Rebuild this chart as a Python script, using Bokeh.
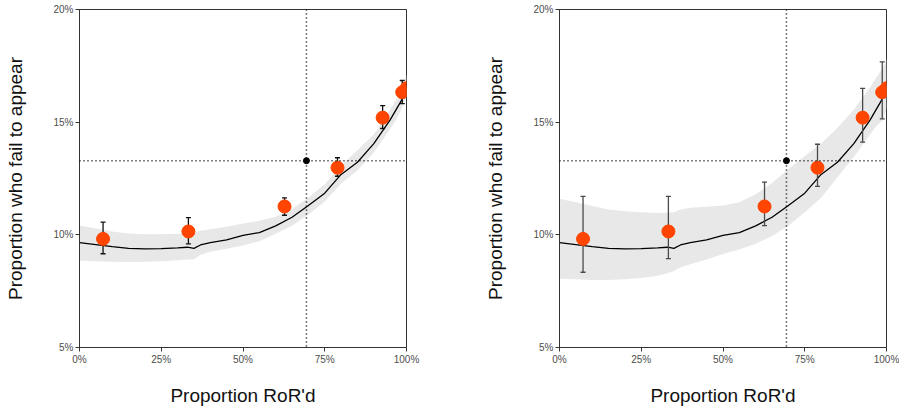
from bokeh.plotting import figure
from bokeh.layouts import row
from bokeh.models import FixedTicker, PrintfTickFormatter, Range1d, ColumnDataSource, Span
from bokeh.embed import file_html
from bokeh.resources import INLINE

# Smoothed estimate of failure-to-appear rate vs. share released on recognizance
curve_x = [0, 5, 10, 15, 20, 25, 30, 33, 35, 37, 40, 45, 50, 55, 60, 65, 70, 75, 80, 85, 90, 95, 97, 99, 100]
curve_y = [9.65, 9.57, 9.48, 9.40, 9.38, 9.39, 9.42, 9.45, 9.40, 9.55, 9.65, 9.78, 9.98, 10.10, 10.40,
           10.78, 11.30, 11.85, 12.68, 13.22, 14.05, 15.10, 15.60, 16.10, 16.80]

# Uncertainty bands for the two panels
left_band_lo = [8.86, 8.83, 8.80, 8.79, 8.80, 8.83, 8.87, 8.90, 8.92, 9.12, 9.25, 9.38, 9.53, 9.72, 10.05,
                10.40, 10.90, 11.48, 12.28, 12.85, 13.65, 14.70, 15.15, 15.75, 16.20]
left_band_hi = [10.41, 10.28, 10.15, 10.06, 10.03, 10.03, 10.05, 10.05, 10.08, 10.18, 10.25, 10.36, 10.50,
                10.62, 10.80, 11.15, 11.65, 12.25, 13.08, 13.75, 14.45, 15.55, 16.05, 16.60, 17.10]
right_band_lo = [8.05, 8.03, 8.00, 8.00, 8.03, 8.08, 8.18, 8.30, 8.40, 8.56, 8.70, 8.90, 9.15, 9.35, 9.60,
                 9.95, 10.40, 11.00, 11.65, 12.55, 13.45, 14.45, 14.85, 15.10, 15.60]
right_band_hi = [11.60, 11.45, 11.28, 11.12, 11.05, 11.00, 10.97, 10.98, 11.00, 11.12, 11.20, 11.25, 11.30,
                 11.45, 11.80, 12.30, 12.92, 13.50, 14.05, 14.75, 15.55, 16.55, 17.00, 17.44, 17.80]

# Binned observations
point_x = [7.2, 33.3, 62.7, 78.9, 92.7, 98.7, 100.0]
point_y = [9.82, 10.15, 11.26, 12.98, 15.20, 16.33, 16.50]
left_err_lo = [9.16, 9.60, 10.87, 12.60, 14.72, 15.82, 16.30]
left_err_hi = [10.56, 10.76, 11.64, 13.42, 15.73, 16.85, 16.70]
right_err_lo = [8.34, 8.94, 10.41, 12.15, 14.11, 15.15, 16.30]
right_err_hi = [11.71, 11.71, 12.34, 14.02, 16.50, 17.68, 16.70]

# Current operating point
ref_x = 69.4
ref_y = 13.29

x_ticks = [0, 25, 50, 75, 100]
y_ticks = [5, 10, 15, 20]

FONT = "Liberation Sans"
ORANGE = "#FF4500"


def make_panel(band_lo, band_hi, err_lo, err_hi, err_color, border_left, border_right):
    p = figure(frame_width=327, frame_height=338, output_backend="svg", toolbar_location=None,
               x_range=Range1d(0, 100), y_range=Range1d(5, 20),
               min_border_left=border_left, min_border_right=border_right,
               min_border_top=9, min_border_bottom=64,
               background_fill_color="white", border_fill_color="white")
    p.xgrid.visible = False
    p.ygrid.visible = False
    p.outline_line_color = "#333333"
    p.outline_line_width = 1
    p.outline_line_alpha = 1

    for ax in (p.xaxis[0], p.yaxis[0]):
        ax.axis_line_color = "#333333"
        ax.major_tick_line_color = "#333333"
        ax.minor_tick_line_color = None
        ax.major_tick_in = 0
        ax.major_tick_out = 4
        ax.major_label_text_font = FONT
        ax.major_label_text_font_size = "10px"
        ax.major_label_text_color = "#4d4d4d"
        ax.axis_label_text_font = FONT
        ax.axis_label_text_font_size = "19px"
        ax.axis_label_text_font_style = "normal"
        ax.axis_label_text_color = "#111111"
        ax.major_label_standoff = 2

    p.xaxis.ticker = FixedTicker(ticks=x_ticks)
    p.yaxis.ticker = FixedTicker(ticks=y_ticks)
    p.xaxis.formatter = PrintfTickFormatter(format="%d%%")
    p.yaxis.formatter = PrintfTickFormatter(format="%d%%")
    p.xaxis.axis_label = "Proportion RoR'd"
    p.yaxis.axis_label = "Proportion who fail to appear"
    p.xaxis.axis_label_standoff = 17
    p.yaxis.axis_label_standoff = 24

    band = ColumnDataSource(dict(x=curve_x, lo=band_lo, hi=band_hi, y=curve_y))
    p.varea(x="x", y1="lo", y2="hi", source=band, fill_color="#e8e8e8")
    p.line(x="x", y="y", source=band, line_color="black", line_width=1.3)

    p.add_layout(Span(location=ref_x, dimension="height", line_color="black",
                      line_dash="1 3", line_width=1.6))
    p.add_layout(Span(location=ref_y, dimension="width", line_color="black",
                      line_dash="1 3", line_width=1.6))

    pts = ColumnDataSource(dict(x=point_x, y=point_y, lo=err_lo, hi=err_hi))
    p.segment(x0="x", y0="lo", x1="x", y1="hi", source=pts, line_color=err_color, line_width=1.3)
    p.scatter(x="x", y="lo", source=pts, marker="dash", size=5, line_color=err_color, line_width=1.3)
    p.scatter(x="x", y="hi", source=pts, marker="dash", size=5, line_color=err_color, line_width=1.3)
    p.scatter(x="x", y="y", source=pts, marker="circle", size=13, fill_color=ORANGE, line_color=ORANGE)

    p.scatter(x=[ref_x], y=[ref_y], marker="circle", size=6, fill_color="black", line_color="black")
    return p


p1 = make_panel(left_band_lo, left_band_hi, left_err_lo, left_err_hi, "#111111", 79, 73)
p2 = make_panel(right_band_lo, right_band_hi, right_err_lo, right_err_hi, "#4a4a4a", 80, 13)

layout = row(p1, p2, spacing=0)
open("out.html", "w").write(file_html(layout, INLINE))
